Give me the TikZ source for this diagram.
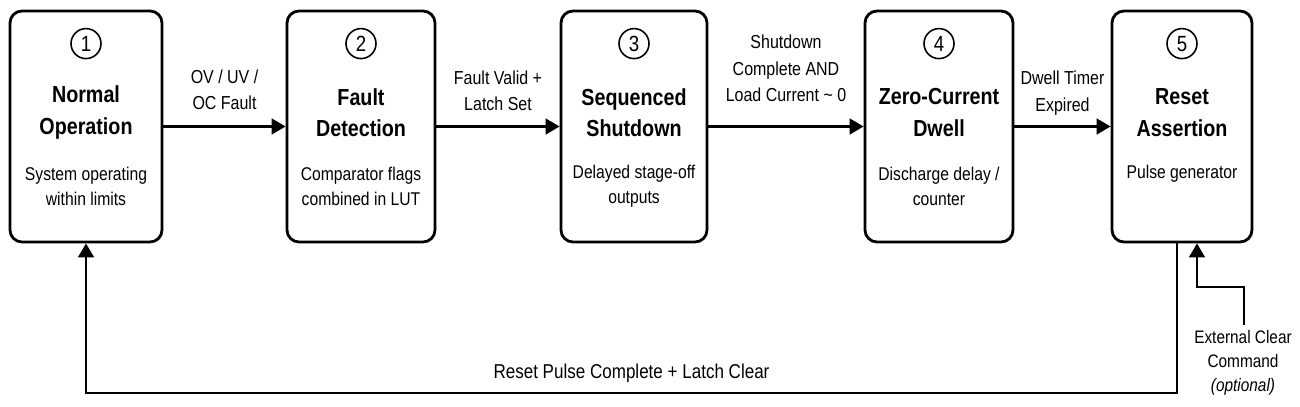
\documentclass[tikz,border=0pt]{standalone}
\usepackage{fontspec}
\setmainfont{Liberation Sans}[FakeStretch=0.85]
\usepackage{tikz}
\usetikzlibrary{arrows.meta}

\begin{document}
\begin{tikzpicture}[
    stage/.style={draw, line width=1.6pt, rounded corners=0.24cm, minimum height=4.62cm, inner sep=0pt},
    num/.style={draw, circle, line width=0.9pt, minimum size=0.6cm, inner sep=0pt, font=\fontsize{12.5}{14}\selectfont},
    ttl/.style={align=center, font=\bfseries\fontsize{13.2}{18}\selectfont},
    sub/.style={align=center, font=\fontsize{10.5}{14.2}\selectfont},
    lbl/.style={align=center, font=\fontsize{10.7}{15}\selectfont},
    flow/.style={-{Triangle[length=8pt,width=9pt]}, line width=1.3pt}
  ]
  \useasboundingbox (0,0) rectangle (26,8.14);

  % the five stages
  \node[stage, minimum width=3.04cm] (normal) at (1.72,5.61) {};
  \node[stage, minimum width=2.96cm] (fault) at (7.22,5.61) {};
  \node[stage, minimum width=2.92cm] (shutdown) at (12.68,5.61) {};
  \node[stage, minimum width=2.96cm] (dwell) at (18.78,5.61) {};
  \node[stage, minimum width=2.80cm] (reset) at (23.64,5.61) {};

  \node[num] (n1) at ([yshift=-0.68cm]normal.north) {1};
  \node[num] (n2) at ([yshift=-0.68cm]fault.north) {2};
  \node[num] (n3) at ([yshift=-0.68cm]shutdown.north) {3};
  \node[num] (n4) at ([yshift=-0.68cm]dwell.north) {4};
  \node[num] (n5) at ([yshift=-0.68cm]reset.north) {5};

  \node[ttl] (t1) at ([yshift=-2.06cm]normal.north) {Normal\\Operation};
  \node[ttl] (t2) at ([yshift=-2.06cm]fault.north) {Fault\\Detection};
  \node[ttl] (t3) at ([yshift=-2.06cm]shutdown.north) {Sequenced\\Shutdown};
  \node[ttl] (t4) at ([yshift=-2.06cm]dwell.north) {Zero-Current\\Dwell};
  \node[ttl] (t5) at ([yshift=-2.06cm]reset.north) {Reset\\Assertion};

  \node[sub] (s1) at ([yshift=-3.53cm]normal.north) {System operating\\within limits};
  \node[sub] (s2) at ([yshift=-3.53cm]fault.north) {Comparator flags\\combined in LUT};
  \node[sub] (s3) at ([yshift=-3.53cm]shutdown.north) {Delayed stage-off\\outputs};
  \node[sub] (s4) at ([yshift=-3.53cm]dwell.north) {Discharge delay /\\counter};
  \node[sub] (s5) at ([yshift=-3.28cm]reset.north) {Pulse generator};

  % forward transitions
  \draw[flow] (normal) -- (fault) node[lbl, midway, yshift=0.73cm] {OV / UV /\\OC Fault};
  \draw[flow] (fault) -- (shutdown) node[lbl, midway, yshift=0.72cm] {Fault Valid +\\Latch Set};
  \draw[flow] (shutdown) -- (dwell) node[lbl, midway, yshift=1.16cm] {Shutdown\\Complete AND\\Load Current \textasciitilde{} 0};
  \draw[flow] (dwell) -- (reset) node[lbl, midway, yshift=0.67cm] {Dwell Timer\\Expired};

  % return path
  \coordinate (loop) at (0,0.28);
  \draw[flow] ([xshift=-0.1cm]reset.south) |- (normal.south |- loop)
    node[lbl, pos=0.75, above=2pt, font=\fontsize{11.4}{14}\selectfont] {Reset Pulse Complete + Latch Clear}
    -- (normal.south);

  % external clear input
  \node[lbl, font=\fontsize{10.3}{13.5}\selectfont] (extclr) at (24.86,0.88) {External Clear\\Command\\\textit{(optional)}};
  \coordinate (ectop) at (24.88,2.40);
  \draw[flow] (extclr.north -| ectop) -- (ectop) -| ([xshift=0.3cm]reset.south);
\end{tikzpicture}
\end{document}
